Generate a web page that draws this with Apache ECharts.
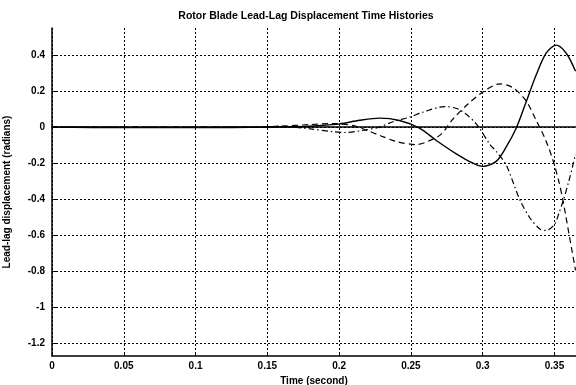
<!DOCTYPE html>
<html>
<head>
<meta charset="utf-8">
<script src="https://cdn.jsdelivr.net/npm/echarts@6/dist/echarts.min.js"></script>
<style>html,body{margin:0;padding:0;background:#fff}#c{width:576px;height:385px}</style>
</head>
<body>
<div id="c"></div>
<script>
var titleText = 'Rotor Blade Lead-Lag Displacement Time Histories';
var xName = 'Time (second)';
var yName = 'Lead-lag displacement (radians)';
var xTicks = [0, 0.05, 0.1, 0.15, 0.2, 0.25, 0.3, 0.35];
var yTicks = [0.4, 0.2, 0, -0.2, -0.4, -0.6, -0.8, -1, -1.2];

var solidT = [0, 0.05, 0.1, 0.15, 0.17, 0.185, 0.2004, 0.2143, 0.2283, 0.242, 0.256, 0.2677, 0.2816, 0.2932, 0.300, 0.3094, 0.3164, 0.3234, 0.3296, 0.3373, 0.3442, 0.3512, 0.3582, 0.3647];
var solidV = [0, -0.003, -0.003, 0, 0.002, 0.008, 0.018, 0.038, 0.05, 0.037, -0.005, -0.074, -0.148, -0.2, -0.218, -0.19, -0.11, -0.005, 0.125, 0.29, 0.41, 0.455, 0.41, 0.31];

var dashT = [0, 0.1, 0.14, 0.16, 0.18, 0.195, 0.21, 0.22, 0.228, 0.24, 0.254, 0.263, 0.271, 0.2793, 0.29, 0.300, 0.3118, 0.3208, 0.330, 0.3373, 0.344, 0.349, 0.353, 0.356, 0.3605, 0.3647];
var dashV = [0, 0, 0, 0.006, 0.014, 0.02, 0.008, -0.02, -0.045, -0.08, -0.097, -0.075, -0.04, 0.045, 0.13, 0.194, 0.24, 0.22, 0.148, 0.037, -0.074, -0.185, -0.30, -0.41, -0.61, -0.795];

var dashDotT = [0, 0.1, 0.14, 0.16, 0.18, 0.195, 0.205, 0.215, 0.228, 0.2375, 0.249, 0.2584, 0.2735, 0.284, 0.2955, 0.3048, 0.31, 0.3164, 0.3257, 0.3326, 0.3396, 0.344, 0.350, 0.353, 0.356, 0.360, 0.3647];
var dashDotV = [0, 0, 0, 0.004, -0.01, -0.025, -0.03, -0.02, 0.0, 0.03, 0.055, 0.083, 0.114, 0.096, 0.018, -0.093, -0.14, -0.21, -0.40, -0.50, -0.564, -0.573, -0.54, -0.48, -0.41, -0.30, -0.15];

function pairs(t, v) { return t.map(function (x, i) { return [x, v[i]]; }); }
function isTick(list, v) { return list.some(function (t) { return Math.abs(t - v) < 1e-9; }); }

var font = 'Liberation Sans, Arial, sans-serif';
var chart = echarts.init(document.getElementById('c'), null, { renderer: 'canvas' });
chart.setOption({
  animation: false,
  backgroundColor: '#fff',
  title: {
    text: titleText, left: 301, top: 6, textAlign: 'center',
    textStyle: { fontFamily: font, fontSize: 10.5, fontWeight: 'bold', color: '#000' }
  },
  grid: { left: 52, right: 0, top: 28, bottom: 29, containLabel: false, outerBoundsMode: 'none' },
  xAxis: [{
    type: 'value', min: 0, max: 0.365, interval: 0.05,
    name: xName, nameLocation: 'middle', nameGap: 14,
    nameTextStyle: { fontFamily: font, fontSize: 10, fontWeight: 'bold', color: '#000' },
    axisLine: { show: true, onZero: false, lineStyle: { color: '#000', width: 1.5 } },
    axisTick: { show: true, inside: true, length: 4, lineStyle: { color: '#000' } },
    axisLabel: {
      margin: 5, fontFamily: font, fontSize: 10, fontWeight: 'bold', color: '#000',
      formatter: function (v) { return isTick(xTicks, v) ? String(Math.round(v * 100) / 100) : ''; }
    },
    splitLine: { show: true, lineStyle: { color: '#000', type: [2, 2], width: 1 } }
  }, {
    type: 'value', position: 'top', min: 0, max: 0.365, interval: 0.05,
    axisLine: { show: true, lineStyle: { color: '#000', width: 1.5 } },
    axisTick: { show: false }, axisLabel: { show: false }, splitLine: { show: false }
  }],
  yAxis: {
    type: 'value', min: -1.27, max: 0.55, interval: 0.2,
    name: yName, nameLocation: 'middle', nameGap: 40,
    nameTextStyle: { fontFamily: font, fontSize: 10, fontWeight: 'bold', color: '#000' },
    axisLine: { show: true, onZero: false, lineStyle: { color: '#000', width: 1.5 } },
    axisTick: { show: true, inside: true, length: 4, lineStyle: { color: '#000' },
      customValues: yTicks },
    axisLabel: {
      margin: 7, fontFamily: font, fontSize: 10, fontWeight: 'bold', color: '#000',
      customValues: yTicks,
      formatter: function (v) { return String(Math.round(v * 10) / 10); }
    },
    splitLine: { show: false }
  },
  series: [{
    type: 'line', data: pairs(solidT, solidV), smooth: 0.3, showSymbol: false,
    lineStyle: { color: '#000', width: 1.4, type: 'solid' },
    markLine: {
      silent: true, symbol: 'none', label: { show: false },
      lineStyle: { color: '#000', type: [2, 2], width: 1 },
      data: yTicks.map(function (v) { return { yAxis: v }; })
    }
  }, {
    type: 'line', data: pairs(dashT, dashV), smooth: 0.3, showSymbol: false,
    lineStyle: { color: '#000', width: 1.2, type: [6, 4] }
  }, {
    type: 'line', data: pairs(dashDotT, dashDotV), smooth: 0.3, showSymbol: false,
    lineStyle: { color: '#000', width: 1.2, type: [6, 3, 1.5, 3] }
  }]
});
</script>
</body>
</html>
